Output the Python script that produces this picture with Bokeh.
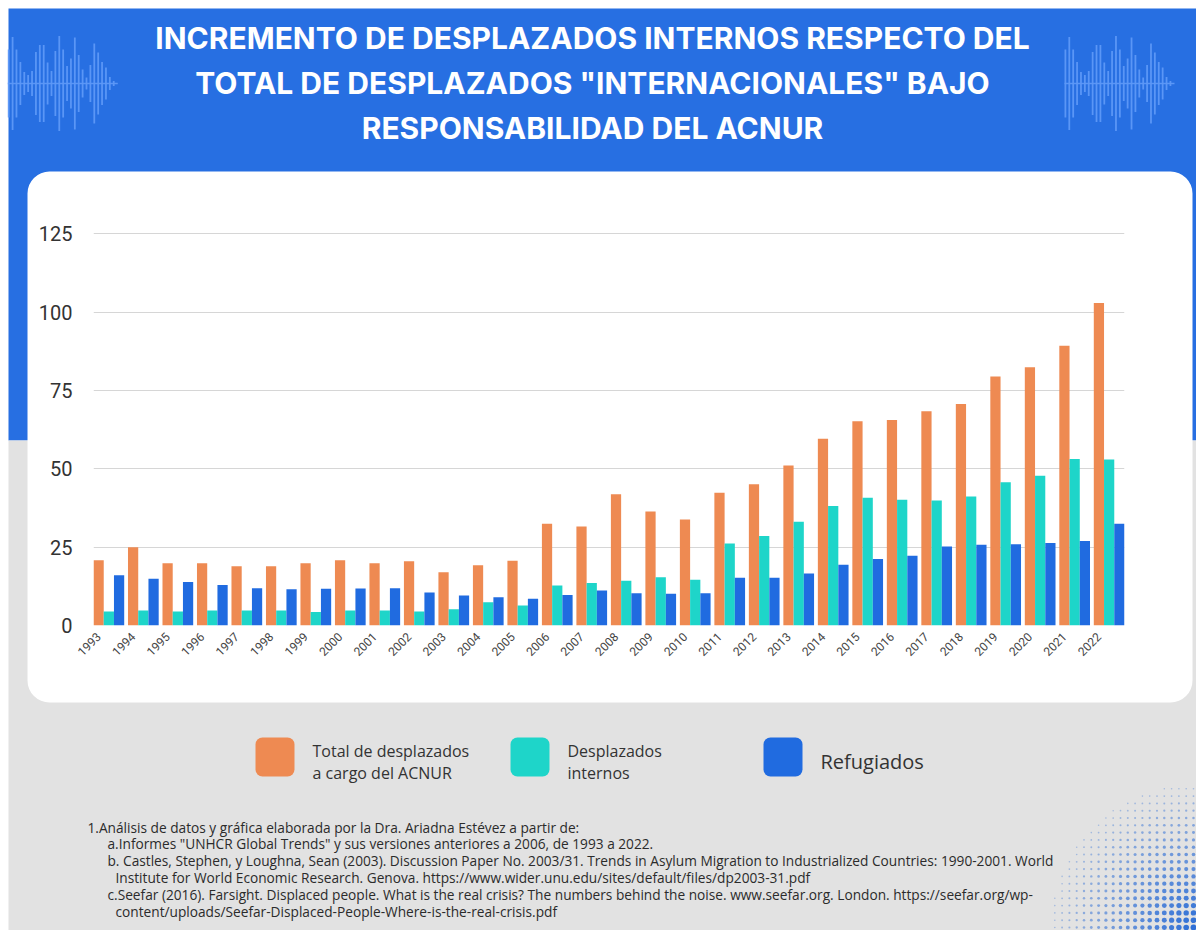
import math
from bokeh.plotting import figure
from bokeh.models import Range1d, FixedTicker, ColumnDataSource
from bokeh.core.properties import value
from bokeh.transform import dodge
from bokeh.embed import file_html
from bokeh.resources import INLINE

# ---------------- data ----------------
years = ["1993", "1994", "1995", "1996", "1997", "1998", "1999", "2000", "2001", "2002",
         "2003", "2004", "2005", "2006", "2007", "2008", "2009", "2010", "2011", "2012",
         "2013", "2014", "2015", "2016", "2017", "2018", "2019", "2020", "2021", "2022"]
total_acnur = [20.8, 25.0, 19.9, 19.9, 18.9, 18.9, 19.9, 20.8, 19.9, 20.5,
               17.0, 19.2, 20.7, 32.5, 31.6, 41.9, 36.4, 33.8, 42.4, 45.1,
               51.1, 59.6, 65.2, 65.6, 68.4, 70.7, 79.5, 82.4, 89.3, 102.9]
desplazados_internos = [4.5, 4.8, 4.5, 4.8, 4.8, 4.8, 4.3, 4.8, 4.8, 4.5,
                        5.2, 7.4, 6.4, 12.8, 13.6, 14.3, 15.4, 14.6, 26.2, 28.6,
                        33.1, 38.1, 40.8, 40.1, 39.9, 41.2, 45.7, 47.8, 53.1, 53.0]
refugiados = [16.0, 14.9, 13.9, 12.9, 11.9, 11.6, 11.7, 11.8, 11.9, 10.5,
              9.6, 9.0, 8.5, 9.7, 11.2, 10.3, 10.1, 10.3, 15.2, 15.2,
              16.6, 19.4, 21.2, 22.3, 25.2, 25.8, 25.9, 26.3, 27.0, 32.5]
y_ticks = [0, 25, 50, 75, 100, 125]
series_names = ["Total de desplazados\na cargo del ACNUR", "Desplazados\ninternos", "Refugiados"]

title_lines = ["INCREMENTO DE DESPLAZADOS INTERNOS RESPECTO DEL",
               "TOTAL DE DESPLAZADOS \"INTERNACIONALES\" BAJO",
               "RESPONSABILIDAD DEL ACNUR"]
notes = [
    "1.Análisis de datos y gráfica elaborada por la Dra. Ariadna Estévez a partir de:",
    "a.Informes \"UNHCR Global Trends\" y sus versiones anteriores a 2006, de 1993 a 2022.",
    "b. Castles, Stephen, y Loughna, Sean (2003). Discussion Paper No. 2003/31. Trends in Asylum Migration to Industrialized Countries: 1990-2001. World",
    "Institute for World Economic Research. Genova. https://www.wider.unu.edu/sites/default/files/dp2003-31.pdf",
    "c.Seefar (2016). Farsight. Displaced people. What is the real crisis? The numbers behind the noise.  www.seefar.org. London. https://seefar.org/wp-",
    "content/uploads/Seefar-Displaced-People-Where-is-the-real-crisis.pdf",
]
wave_heights = [68, 93, 68, 43, 23, 17, 25, 63, 77, 77, 42, 25, 65, 95, 68, 35,
                50, 92, 57, 28, 12, 37, 80, 62, 43, 32, 13, 5]

# ---------------- styles ----------------
C_ORANGE = "#EE8A52"
C_TEAL = "#1ED5C9"
C_BLUE = "#206BE0"
C_HEADER = "#276FE2"
C_GRAY = "#E2E2E2"
C_WAVE = "#5D98F7"
TXT = "#333333"

W, H = 1196, 930

# ---------------- background figure (pixel coordinates) ----------------
bg = figure(width=W, height=H, output_backend="svg", toolbar_location=None,
            x_range=Range1d(0, W), y_range=Range1d(H, 0),
            x_axis_type=None, y_axis_type=None, min_border=0)
bg.background_fill_color = "white"
bg.border_fill_color = "white"
bg.outline_line_color = None

bg.quad(left=[8], right=[W], top=[8], bottom=[440], fill_color=C_HEADER, line_color=None)
bg.quad(left=[8], right=[W], top=[440], bottom=[H], fill_color=C_GRAY, line_color=None)
bg.quad(left=[27], right=[1192], top=[171], bottom=[702], fill_color="white", line_color=None,
        border_radius=22)

# wave decorations
wl, wr, wt, wb = [], [], [], []
for base in (7.3, 1064.0):
    wl.append(base); wr.append(base + 110); wt.append(82.2); wb.append(83.8)
    for k, hgt in enumerate(wave_heights):
        x0 = base + k * 3.89
        wl.append(x0); wr.append(x0 + 1.8); wt.append(83 - hgt / 2); wb.append(83 + hgt / 2)
bg.quad(left=wl, right=wr, top=wt, bottom=wb, fill_color=C_WAVE, fill_alpha=0.95, line_color=None)

# dot pattern bottom-right
dx, dy, ds, da = [], [], [], []
step = 7.3
for i in range(22):
    for j in range(22):
        d = math.hypot(i, j) * step
        f = 1 - d / 150.0
        if f <= 0.05:
            continue
        dx.append(1193 - i * step)
        dy.append(927 - j * step)
        ds.append(1.3 + 4.6 * f)
        da.append(0.3 + 0.7 * f)
bg.scatter(x=dx, y=dy, size=ds, fill_color="#2F6FD6", fill_alpha=da, line_color=None)

# title
bg.text(x=[592, 592, 592], y=[37, 82, 127], text=title_lines, text_align="center",
        text_baseline="middle", text_color="white", text_font=value("Inter"),
        text_font_size="30px", text_font_style="bold")

# legend
leg_colors = [C_ORANGE, C_TEAL, C_BLUE]
leg_x = [255, 510, 763]
bg.quad(left=leg_x, right=[x + 39 for x in leg_x], top=[737] * 3, bottom=[776] * 3,
        fill_color=leg_colors, line_color=None, border_radius=7)
lt_x, lt_y, lt_t = [], [], []
for lx, name in zip(leg_x, series_names):
    parts = name.split("\n")
    if len(parts) == 2:
        lt_x += [lx + 57, lx + 57]; lt_y += [750, 772]; lt_t += parts
bg.text(x=lt_x, y=lt_y, text=lt_t, text_align="left", text_baseline="middle",
        text_color=TXT, text_font=value("Open Sans"), text_font_size="16px")
single = [(lx, n) for lx, n in zip(leg_x, series_names) if "\n" not in n]
bg.text(x=[s[0] + 57 for s in single], y=[761] * len(single), text=[s[1] for s in single],
        text_align="left", text_baseline="middle", text_color=TXT,
        text_font=value("Open Sans"), text_font_size="20px")

# footnotes
note_x = [87, 107, 107, 115, 107, 115]
note_y = [827, 843, 860, 877, 894, 911]
bg.text(x=note_x, y=note_y, text=notes, text_align="left", text_baseline="middle",
        text_color="#2B2B2B", text_font=value("Open Sans"), text_font_size="13.7px")

# ---------------- chart figure (overlaid on the card) ----------------
CX0, CY0, CX1, CY1 = 27, 171, 1192, 702          # card box
FL, FR, FT, FB = 93, 1124, 202, 625              # plot frame box
idx = list(range(len(years)))
src = ColumnDataSource(dict(idx=idx, total=total_acnur, internos=desplazados_internos, ref=refugiados))

bw = 0.2967
p = figure(width=CX1 - CX0, height=CY1 - CY0, output_backend="svg", toolbar_location=None,
           x_range=Range1d(-0.5 * bw, (len(years) - 1) + 2.5 * bw), y_range=Range1d(0, 135),
           min_border_left=FL - CX0, min_border_right=CX1 - FR,
           min_border_top=FT - CY0, min_border_bottom=CY1 - FB)
p.background_fill_alpha = 0
p.border_fill_alpha = 0
p.outline_line_color = None

p.vbar(x="idx", top="total", width=bw, bottom=0, source=src, fill_color=C_ORANGE, line_color=None)
p.vbar(x=dodge("idx", bw, range=p.x_range), top="internos", width=bw, bottom=0, source=src,
       fill_color=C_TEAL, line_color=None)
p.vbar(x=dodge("idx", 2 * bw, range=p.x_range), top="ref", width=bw, bottom=0, source=src,
       fill_color=C_BLUE, line_color=None)

p.xgrid.grid_line_color = None
p.ygrid.ticker = FixedTicker(ticks=y_ticks)
p.ygrid.grid_line_color = "#D6D6D6"
p.ygrid.grid_line_width = 1

p.yaxis.ticker = FixedTicker(ticks=y_ticks)
p.yaxis.axis_line_color = None
p.yaxis.major_tick_line_color = None
p.yaxis.minor_tick_line_color = None
p.yaxis.major_label_standoff = 15
p.yaxis.major_label_text_font = "Roboto"
p.yaxis.major_label_text_font_size = "20px"
p.yaxis.major_label_text_color = TXT

p.xaxis.ticker = FixedTicker(ticks=idx)
p.xaxis.major_label_overrides = {i: y for i, y in zip(idx, years)}
p.xaxis.major_label_orientation = math.pi / 4
p.xaxis.axis_line_color = None
p.xaxis.major_tick_line_color = None
p.xaxis.minor_tick_line_color = None
p.xaxis.major_label_standoff = 3
p.xaxis.major_label_text_font = "Roboto"
p.xaxis.major_label_text_font_size = "12px"
p.xaxis.major_label_text_color = "#444444"

# page template: background figure at the origin, chart figure laid over the card
TEMPLATE = """
{% from macros import embed with context %}
{% block contents %}
<div style="position:relative;width:1196px;height:930px;overflow:hidden;">
{% for doc in docs %}{% for root in doc.roots %}
<div style="position:absolute;left:{{ '0' if loop.first else '%d' % card_x }}px;top:{{ '0' if loop.first else '%d' % card_y }}px;">
{{ embed(root) }}
</div>
{% endfor %}{% endfor %}
</div>
{% endblock %}
"""

html = file_html([bg, p], INLINE, template=TEMPLATE,
                 template_variables=dict(card_x=CX0, card_y=CY0))
open("out.html", "w").write(html)
